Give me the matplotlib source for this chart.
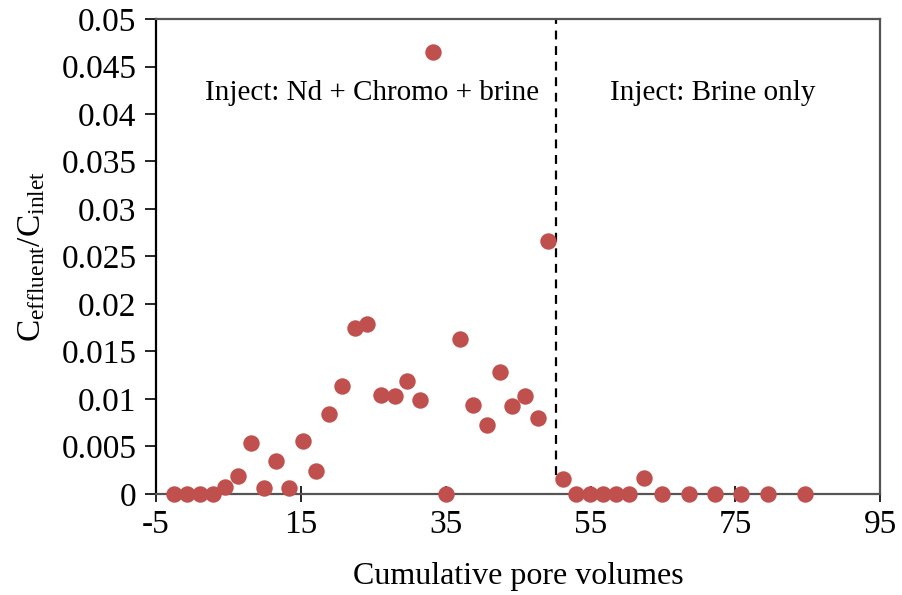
#
#   Effluent / inlet concentration ratio versus cumulative pore volumes
#

import numpy as np
import matplotlib.pyplot as plt


pore_volumes = [-2.5, -0.7, 1.1, 2.9, 4.5, 6.3, 8.1, 9.9, 11.6, 13.4,
                15.3, 17.1, 18.9, 20.7, 22.4, 24.1, 26.1, 28.0, 29.7, 31.5,
                33.3, 35.1, 36.9, 38.7, 40.7, 42.5, 44.2, 46.0, 47.8, 49.1,
                51.2, 53.0, 54.9, 56.7, 58.5, 60.3, 62.3, 64.9, 68.6, 72.2,
                75.8, 79.5, 84.6]
c_ratio = [0, 0, 0, 0, 0.0007, 0.0019, 0.0054, 0.0006, 0.0035, 0.0006,
           0.0056, 0.0024, 0.0084, 0.0114, 0.0175, 0.0179, 0.0104, 0.0103, 0.0119, 0.0099,
           0.0465, 0, 0.0163, 0.0094, 0.0073, 0.0128, 0.0092, 0.0103, 0.0080, 0.0266,
           0.0016, 0, 0, 0, 0, 0, 0.0017, 0, 0, 0,
           0, 0, 0]

x_ticks = [-5, 15, 35, 55, 75, 95]
y_ticks = np.arange(0, 0.0501, 0.005)
y_labels = ['0', '0.005', '0.01', '0.015', '0.02', '0.025', '0.03',
            '0.035', '0.04', '0.045', '0.05']

SWITCH_PV = 50.2  # switch from Nd + Chromo + brine to brine only

plt.rcParams['font.family'] = ['Liberation Serif', 'DejaVu Serif']
plt.rcParams['mathtext.fontset'] = 'custom'
plt.rcParams['mathtext.rm'] = 'Liberation Serif'
plt.rcParams['mathtext.it'] = 'Liberation Serif:italic'
plt.rcParams['axes.unicode_minus'] = False

fig = plt.figure(figsize=(9.02, 5.95), dpi=100)
ax = fig.add_axes([0.173, 0.170, 0.803, 0.798])

ax.scatter(pore_volumes, c_ratio, s=140, color='#C0504D', zorder=3,
           clip_on=False, linewidths=0)
ax.vlines(SWITCH_PV, 0.002, 0.05, colors='black', linestyles=(0, (4, 3)),
          linewidth=1.6, zorder=2)

ax.text(24.8, 0.0422, 'Inject: Nd + Chromo + brine', fontsize=21,
        ha='center', va='center')
ax.text(71.8, 0.0422, 'Inject: Brine only', fontsize=21,
        ha='center', va='center')

ax.set_xlim(-5, 95)
ax.set_ylim(0, 0.05)
ax.set_xticks(x_ticks)
ax.set_yticks(y_ticks)
ax.set_yticklabels(y_labels)
ax.tick_params(axis='x', direction='inout', length=12, width=1.2,
               labelsize=24, pad=5)
ax.tick_params(axis='y', direction='out', length=8, width=1.2,
               labelsize=24, pad=6)

for side in ['top', 'right', 'bottom']:
    ax.spines[side].set_color('#555555')
    ax.spines[side].set_linewidth(1.6)
ax.spines['left'].set_color('black')
ax.spines['left'].set_linewidth(1.6)

ax.set_xlabel('Cumulative pore volumes', fontsize=23, labelpad=16)
ax.set_ylabel(r'C$_{\mathrm{effluent}}$/C$_{\mathrm{inlet}}$', fontsize=24,
              labelpad=10)

fig.savefig('out.png', dpi=100)
